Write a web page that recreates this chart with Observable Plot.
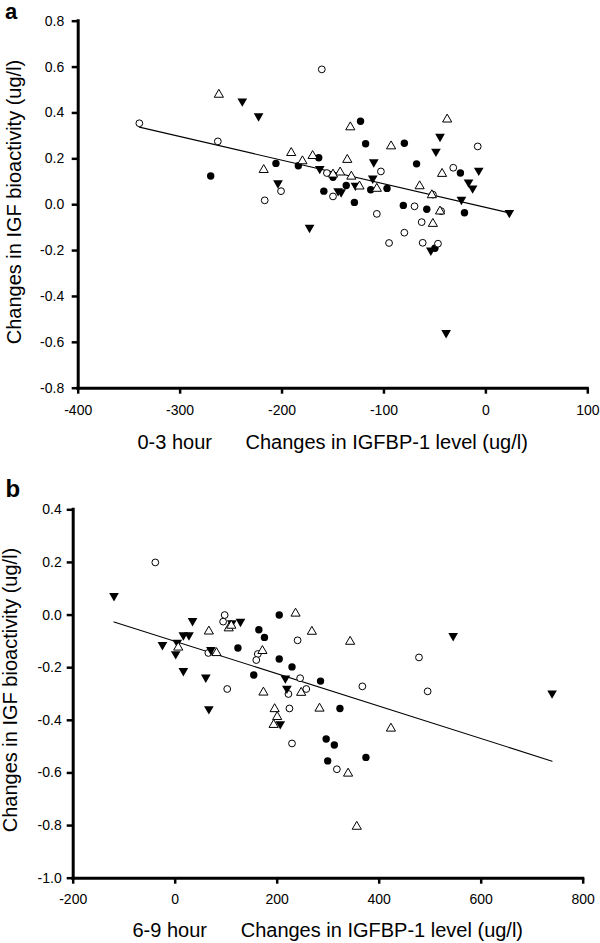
<!DOCTYPE html>
<html><head><meta charset="utf-8">
<script src="https://cdn.jsdelivr.net/npm/d3@7"></script>
<script src="https://cdn.jsdelivr.net/npm/@observablehq/plot@0.6"></script>
<style>
body{margin:0;background:#fff;}
#wrap{position:relative;width:600px;height:943px;overflow:hidden;font-family:"Liberation Sans",Arial,Helvetica,sans-serif;color:#000;background:#fff;}
.abs{position:absolute;white-space:nowrap;}
.yt{font-size:20px;line-height:16px;transform:translate(-50%,-50%) rotate(-90deg);}
.xt{font-size:20px;line-height:20px;}
.pl{font-size:24px;line-height:14px;font-weight:bold;}
.pa{font-size:22px;}
svg{position:absolute;left:0;}
</style></head><body><div id="wrap"></div>
<script>
// ---- Panel a: 0-3 hour ----
const aFilledCircleX = [-270, -206, -184, -164, -123, -118, -80, -68, -25, -150, -97, -113, -137, -159, -129, -81, -58, -21, -50];
const aFilledCircleY = [0.125, 0.18, 0.17, 0.205, 0.364, 0.266, 0.268, 0.178, 0.138, 0.12, 0.071, 0.065, 0.084, 0.059, 0.01, -0.003, -0.02, -0.035, -0.19];
const aOpenCircleX = [-340, -263, -201, -217, -161, -8, -32, -156, -103, -52, -150, -70, -44, -107, -63, -80, -95, -62, -47];
const aOpenCircleY = [0.355, 0.276, 0.059, 0.019, 0.59, 0.254, 0.161, 0.138, 0.145, 0.044, 0.036, -0.007, -0.028, -0.04, -0.076, -0.122, -0.167, -0.166, -0.17];
const aDownTriX = [-239, -223, -204, -163, -173, -110, -45, -49, -7, -111, -128, -142, -145, -17, -13, -24, 23, -54, -39];
const aDownTriY = [0.451, 0.386, 0.094, 0.157, -0.10, 0.186, 0.297, 0.232, 0.149, 0.115, 0.084, 0.055, 0.06, 0.098, 0.072, 0.022, -0.035, -0.199, -0.559];
const aOpenTriX = [-262, -191, -218, -180, -170, -133, -93, -38, -136, -43, -143, -150, -132, -65, -53, -107, -124, -45, -52];
const aOpenTriY = [0.48, 0.226, 0.152, 0.19, 0.213, 0.338, 0.255, 0.372, 0.196, 0.135, 0.141, 0.132, 0.123, 0.081, 0.042, 0.07, 0.08, -0.029, -0.083];
const aXTicks = [-400, -300, -200, -100, 0, 100];
const aYTicks = [-0.8, -0.6, -0.4, -0.2, 0, 0.2, 0.4, 0.6, 0.8];

// ---- Panel b: 6-9 hour ----
const bFilledCircleX = [204, 164, 175, 123, 154, 204, 229, 285, 323, 296, 312, 374, 299];
const bFilledCircleY = [0.0, -0.056, -0.085, -0.125, -0.228, -0.167, -0.197, -0.251, -0.355, -0.471, -0.494, -0.541, -0.554];
const bOpenCircleX = [-39, 97, 94, 65, 102, 162, 159, 240, 478, 245, 257, 367, 222, 224, 229, 317, 495];
const bOpenCircleY = [0.2, 0.0, -0.025, -0.144, -0.281, -0.148, -0.171, -0.096, -0.161, -0.24, -0.281, -0.271, -0.3, -0.355, -0.488, -0.586, -0.29];
const bDownTriX = [-120, 34, 111, 128, 16, 27, -25, 4, 1, 70, 16, 60, 66, 216, 219, 206, 545, 739];
const bDownTriY = [0.073, -0.022, -0.03, -0.025, -0.076, -0.076, -0.113, -0.104, -0.148, -0.132, -0.212, -0.237, -0.357, -0.24, -0.279, -0.414, -0.079, -0.297];
const bOpenTriX = [236, 66, 105, 110, 6, 81, 171, 268, 343, 173, 247, 195, 200, 193, 283, 423, 339, 356];
const bOpenTriY = [0.006, -0.062, -0.05, -0.04, -0.123, -0.144, -0.136, -0.063, -0.101, -0.294, -0.295, -0.357, -0.387, -0.417, -0.355, -0.431, -0.602, -0.804];
const bXTicks = [-200, 0, 200, 400, 600, 800];
const bYTicks = [-1.0, -0.8, -0.6, -0.4, -0.2, 0, 0.2, 0.4];

const yTitle = "Changes in IGF bioactivity (ug/l)";
const xTitle = "Changes in IGFBP-1 level (ug/l)";

const pts = (xs, ys) => xs.map((x, i) => ({x, y: ys[i]}));

function panel(cfg) {
  const fc = pts(cfg.fcx, cfg.fcy), oc = pts(cfg.ocx, cfg.ocy),
        dt = pts(cfg.dtx, cfg.dty), ot = pts(cfg.otx, cfg.oty);
  const all = [...fc, ...oc, ...dt, ...ot];
  const [x0, x1] = cfg.xDomain, [y0, y1] = cfg.yDomain;
  return Plot.plot({
    width: 600, height: cfg.height,
    marginTop: cfg.mt, marginBottom: cfg.mb, marginLeft: cfg.ml, marginRight: cfg.mr,
    x: {domain: cfg.xDomain, label: null},
    y: {domain: cfg.yDomain, label: null},
    style: {fontFamily: '"Liberation Sans", Arial, sans-serif', fontSize: "14px", color: "#000", background: "transparent", overflow: "visible"},
    marks: [
      Plot.linearRegressionY(all, {x: "x", y: "y", ci: 0, stroke: "#000", strokeWidth: 1.1}),
      Plot.dot(fc, {x: "x", y: "y", r: 3.7, fill: "#000", stroke: "none"}),
      Plot.dot(oc, {x: "x", y: "y", r: 3.4, fill: "#fff", stroke: "#000", strokeWidth: 1}),
      Plot.dot(dt, {x: "x", y: "y", symbol: "triangle", rotate: 180, r: 3.6, fill: "#000", stroke: "none"}),
      Plot.dot(ot, {x: "x", y: "y", symbol: "triangle", r: 3.4, fill: "#fff", stroke: "#000", strokeWidth: 1}),
      Plot.axisX({ticks: cfg.xTicks, tickSize: 6, tickPadding: cfg.xPad, tickFormat: d => String(d), fontSize: 14, strokeWidth: 2.5, label: null}),
      Plot.axisY({ticks: cfg.yTicks, tickSize: 6, tickPadding: cfg.yPad, tickFormat: d => d.toFixed(1), fontSize: 14, strokeWidth: 2.5, label: null}),
      Plot.ruleX([x0], {y1: y0, y2: y1, stroke: "#000", strokeWidth: 3, strokeLinecap: "square"}),
      Plot.ruleY([y0], {x1: x0, x2: x1, stroke: "#000", strokeWidth: 3, strokeLinecap: "square"})
    ]
  });
}

const wrap = document.getElementById("wrap");

const svgA = panel({
  fcx: aFilledCircleX, fcy: aFilledCircleY, ocx: aOpenCircleX, ocy: aOpenCircleY,
  dtx: aDownTriX, dty: aDownTriY, otx: aOpenTriX, oty: aOpenTriY,
  xDomain: [-400, 100], yDomain: [-0.8, 0.8], xTicks: aXTicks, yTicks: aYTicks,
  height: 425, mt: 20.7, mb: 37.3, ml: 77.7, mr: 12.7, xPad: 11, yPad: 8
});
svgA.style.top = "0px";
wrap.appendChild(svgA);

const svgB = panel({
  fcx: bFilledCircleX, fcy: bFilledCircleY, ocx: bOpenCircleX, ocy: bOpenCircleY,
  dtx: bDownTriX, dty: bDownTriY, otx: bOpenTriX, oty: bOpenTriY,
  xDomain: [-200, 800], yDomain: [-1.0, 0.4], xTicks: bXTicks, yTicks: bYTicks,
  height: 445, mt: 39.3, mb: 37.3, ml: 72.7, mr: 17.3, xPad: 9.5, yPad: 5.5
});
svgB.style.top = "470px";
wrap.appendChild(svgB);

function addText(cls, text, left, top) {
  const d = document.createElement("div");
  d.className = "abs " + cls;
  d.textContent = text;
  d.style.left = left + "px";
  d.style.top = top + "px";
  wrap.appendChild(d);
}
addText("pl pa", "a", 5, 5.4);
addText("pl", "b", 5.5, 481.7);
addText("yt", yTitle, 14.1, 201.5);
addText("yt", yTitle, 9.6, 690);
addText("xt", "0-3 hour", 137.5, 431.8);
addText("xt", xTitle, 245.5, 431.8);
addText("xt", "6-9 hour", 132.5, 920.2);
addText("xt", xTitle, 240.7, 920.2);
</script>
</body></html>
